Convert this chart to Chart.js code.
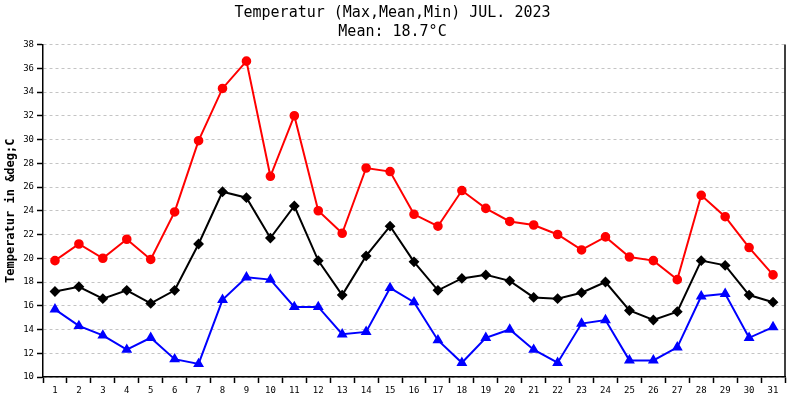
<!DOCTYPE html>
<html>
<head>
<meta charset="utf-8">
<script src="https://cdn.jsdelivr.net/npm/chart.js@4"></script>
<style>
  html, body { margin: 0; padding: 0; background: #fff; }
  #wrap { width: 800px; height: 400px; }
</style>
</head>
<body>
<div id="wrap"><canvas id="chartCanvas"></canvas></div>
<script>
const days = [];
for (let d = 1; d <= 31; d++) days.push(String(d));

const maxTemp = [19.8, 21.2, 20.0, 21.6, 19.9, 23.9, 29.9, 34.3, 36.6, 26.9, 32.0, 24.0, 22.1, 27.6, 27.3,
                 23.7, 22.7, 25.7, 24.2, 23.1, 22.8, 22.0, 20.7, 21.8, 20.1, 19.8, 18.2, 25.3, 23.5, 20.9, 18.6];
const meanTemp = [17.2, 17.6, 16.6, 17.3, 16.2, 17.3, 21.2, 25.6, 25.1, 21.7, 24.4, 19.8, 16.9, 20.2, 22.7,
                  19.7, 17.3, 18.3, 18.6, 18.1, 16.7, 16.6, 17.1, 18.0, 15.6, 14.8, 15.5, 19.8, 19.4, 16.9, 16.3];
const minTemp = [15.7, 14.3, 13.5, 12.3, 13.3, 11.5, 11.1, 16.5, 18.4, 18.2, 15.9, 15.9, 13.6, 13.8, 17.5,
                 16.3, 13.1, 11.2, 13.3, 14.0, 12.3, 11.2, 14.5, 14.8, 11.4, 11.4, 12.5, 16.8, 17.0, 13.3, 14.2];

const titleLines = ["Temperatur (Max,Mean,Min) JUL. 2023", "Mean: 18.7°C"];
const yTitle = "Temperatur in &deg;C";

const mono = "'DejaVu Sans Mono', 'Liberation Mono', monospace";

// right frame line of the plot
const rightBorder = {
    id: "rightBorder",
    afterDraw(chart) {
        const a = chart.chartArea;
        const ctx = chart.ctx;
        ctx.save();
        ctx.strokeStyle = "#000";
        ctx.lineWidth = 1.5;
        ctx.beginPath();
        ctx.moveTo(a.right, a.top);
        ctx.lineTo(a.right, a.bottom);
        ctx.stroke();
        ctx.restore();
    }
};

new Chart(document.getElementById("chartCanvas"), {
    type: "line",
    data: {
        labels: days,
        datasets: [
            {
                label: "Max",
                data: maxTemp,
                borderColor: "#ff0000",
                backgroundColor: "#ff0000",
                borderWidth: 2,
                pointStyle: "circle",
                pointRadius: 3.8,
                tension: 0
            },
            {
                label: "Mean",
                data: meanTemp,
                borderColor: "#000000",
                backgroundColor: "#000000",
                borderWidth: 2,
                pointStyle: "rectRot",
                pointRadius: 4,
                tension: 0
            },
            {
                label: "Min",
                data: minTemp,
                borderColor: "#0000ff",
                backgroundColor: "#0000ff",
                borderWidth: 2,
                pointStyle: "triangle",
                pointRadius: 4.3,
                tension: 0
            }
        ]
    },
    options: {
        responsive: true,
        maintainAspectRatio: false,
        animation: false,
        layout: { padding: { left: 0, right: 15, top: 0, bottom: 0 } },
        plugins: {
            legend: { display: false },
            tooltip: { enabled: false },
            title: {
                display: true,
                text: titleLines,
                color: "#000",
                font: { family: mono, size: 15, weight: "normal", lineHeight: 1.25 },
                padding: { top: 4, bottom: 3 }
            }
        },
        scales: {
            x: {
                offset: true,
                afterFit(scale) { scale.height = 23; },
                grid: {
                    offset: true,
                    drawOnChartArea: false,
                    drawTicks: true,
                    tickLength: 6,
                    tickColor: "#000",
                    tickWidth: 1.5
                },
                border: { color: "#000", width: 1.5 },
                ticks: {
                    color: "#000",
                    font: { family: mono, size: 9 },
                    maxRotation: 0,
                    autoSkip: false,
                    padding: 2
                }
            },
            y: {
                min: 10,
                max: 38,
                afterFit(scale) { scale.width = 43; },
                grid: {
                    color: "#c4c4c4",
                    lineWidth: 1,
                    drawTicks: true,
                    tickLength: 6,
                    tickColor: "#000",
                    tickWidth: 1.5,
                    tickBorderDash: []
                },
                border: { color: "#000", width: 1.5, dash: [3, 3] },
                ticks: {
                    stepSize: 2,
                    color: "#000",
                    font: { family: mono, size: 9 },
                    padding: 3
                },
                title: {
                    display: true,
                    text: yTitle,
                    color: "#000",
                    font: { family: mono, size: 12, weight: "bold" },
                    padding: { top: 4, bottom: 0 }
                }
            }
        }
    },
    plugins: [rightBorder]
});
</script>
</body>
</html>
